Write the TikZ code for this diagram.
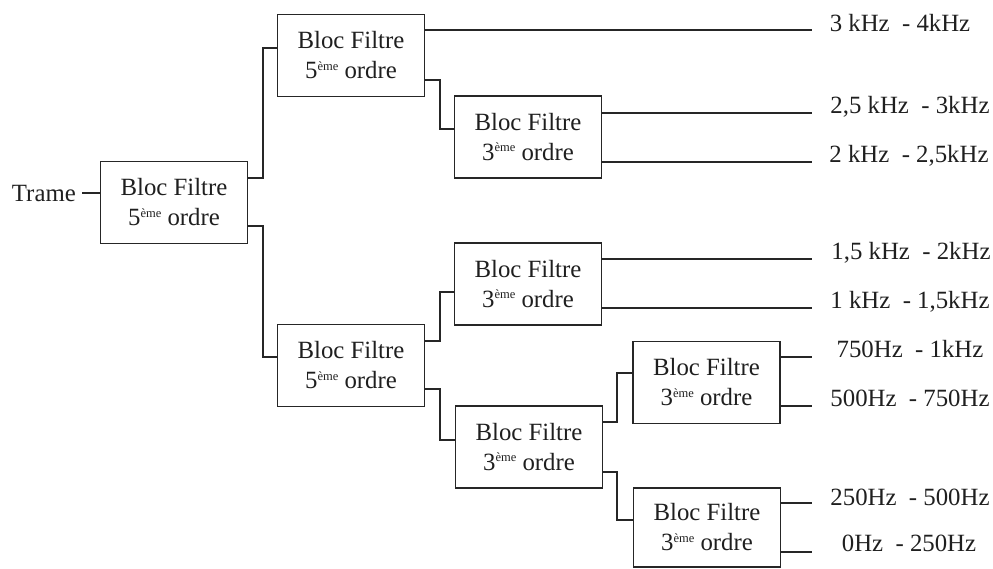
\documentclass[tikz,border=0pt]{standalone}
\usepackage{fontspec}
\setmainfont{Liberation Serif}
\newcommand\emesup{\raisebox{8.5pt}{\fontsize{12.5}{12.5}\selectfont ème}}
\begin{document}
\begin{tikzpicture}[x=1pt,y=-1pt,
  every node/.style={font=\fontsize{24.8}{30}\selectfont, text=black!88},
  filt/.style={draw=black!85, line width=1.8pt, minimum width=147pt, minimum height=82pt, align=center, inner sep=0pt},
  wire/.style={draw=black!85, line width=1.5pt},
  lbl/.style={anchor=base, inner sep=0pt}]
\useasboundingbox (0,0) rectangle (993,568);
% boxes
\node[filt] (A) at (174,202.5) {Bloc Filtre\\5\emesup{} ordre};
\node[filt] (B) at (351,55.5) {Bloc Filtre\\5\emesup{} ordre};
\node[filt] (C) at (528,137) {Bloc Filtre\\3\emesup{} ordre};
\node[filt] (D) at (528,284) {Bloc Filtre\\3\emesup{} ordre};
\node[filt] (E) at (351,365.5) {Bloc Filtre\\5\emesup{} ordre};
\node[filt] (F) at (529,447) {Bloc Filtre\\3\emesup{} ordre};
\node[filt] (G) at (706.5,382.5) {Bloc Filtre\\3\emesup{} ordre};
\node[filt, minimum height=79pt] (H) at (707,527.5) {Bloc Filtre\\3\emesup{} ordre};
% input
\node[anchor=east, inner xsep=6pt, inner ysep=0pt] (T) at (82,193) {Trame};
\draw[wire] (T.east) -- (A.west |- 0,193);
% tree connectors
\draw[wire] (A.east |- 0,178) -- (263,178) -- (263,48) -- (B.west |- 0,48);
\draw[wire] (A.east |- 0,226) -- (263,226) -- (263,357) -- (E.west |- 0,357);
\draw[wire] (B.east |- 0,80) -- (440,80) -- (440,129) -- (C.west |- 0,129);
\draw[wire] (E.east |- 0,341) -- (440,341) -- (440,292) -- (D.west |- 0,292);
\draw[wire] (E.east |- 0,389) -- (440,389) -- (440,440) -- (F.west |- 0,440);
\draw[wire] (F.east |- 0,422) -- (617,422) -- (617,373) -- (G.west |- 0,373);
\draw[wire] (F.east |- 0,472) -- (617,472) -- (617,520) -- (H.west |- 0,520);
% output ends
\coordinate (o1) at (812,30);
\coordinate (o2) at (812,113);
\coordinate (o3) at (812,162);
\coordinate (o4) at (812,259);
\coordinate (o5) at (812,308);
\coordinate (o6) at (812,357);
\coordinate (o7) at (812,406);
\coordinate (o8) at (812,503);
\coordinate (o9) at (812,552);
\draw[wire] (B.east |- o1) -- (o1);
\draw[wire] (C.east |- o2) -- (o2);
\draw[wire] (C.east |- o3) -- (o3);
\draw[wire] (D.east |- o4) -- (o4);
\draw[wire] (D.east |- o5) -- (o5);
\draw[wire] (G.east |- o6) -- (o6);
\draw[wire] (G.east |- o7) -- (o7);
\draw[wire] (H.east |- o8) -- (o8);
\draw[wire] (H.east |- o9) -- (o9);
% labels
\node[lbl] (l1) at (900,31) {3 kHz~~- 4kHz};
\node[lbl] (l2) at (910,113) {2,5 kHz~~- 3kHz};
\node[lbl] (l3) at (909,162) {2 kHz~~- 2,5kHz};
\node[lbl] (l4) at (911,259) {1,5 kHz~~- 2kHz};
\node[lbl] (l5) at (910,308) {1 kHz~~- 1,5kHz};
\node[lbl] (l6) at (910,357) {750Hz~~- 1kHz};
\node[lbl] (l7) at (910,406) {500Hz~~- 750Hz};
\node[lbl] (l8) at (910,505) {250Hz~~- 500Hz};
\node[lbl] (l9) at (909,551) {0Hz~~- 250Hz};
\end{tikzpicture}
\end{document}
